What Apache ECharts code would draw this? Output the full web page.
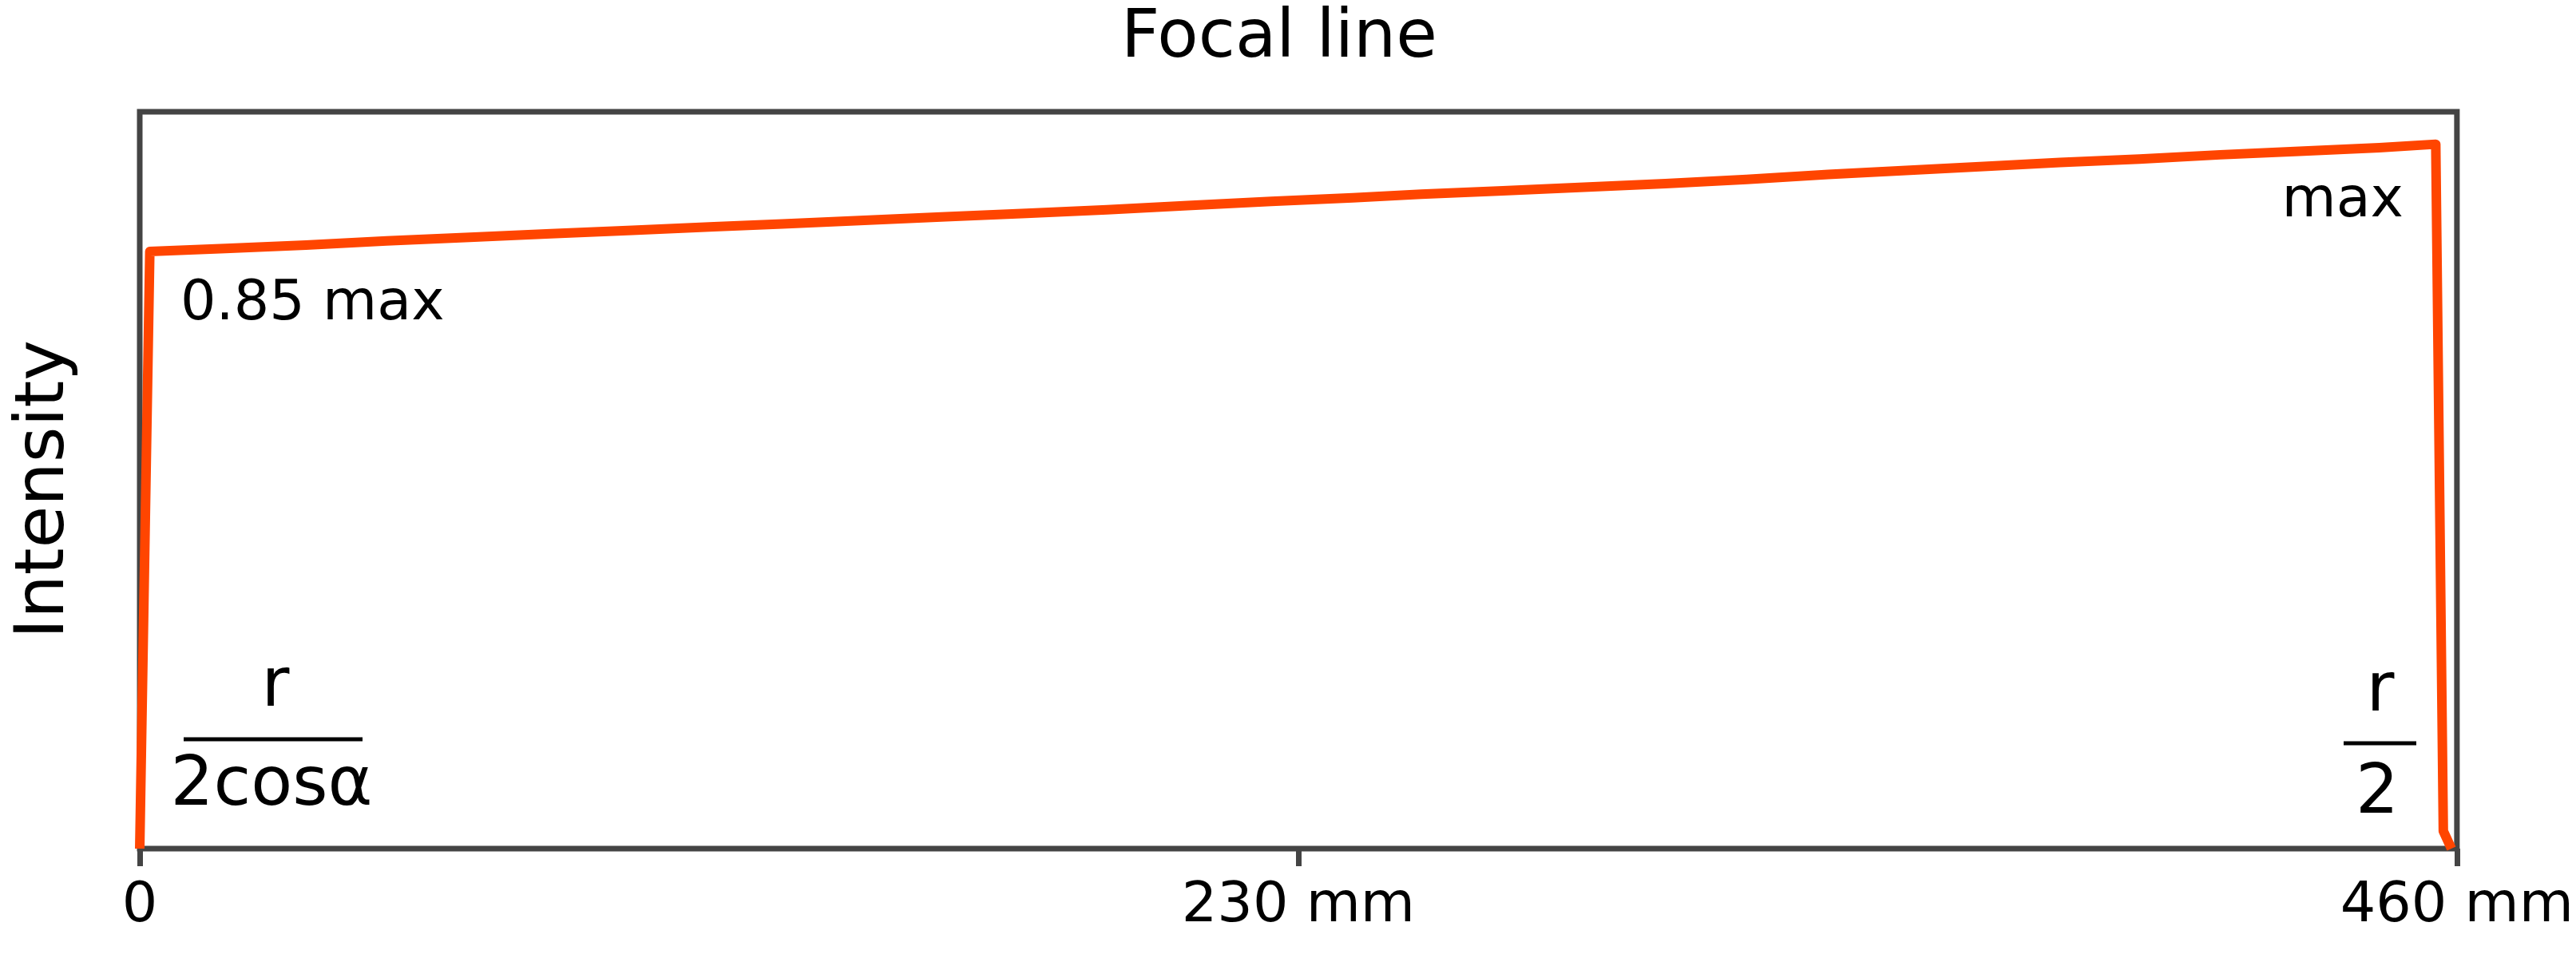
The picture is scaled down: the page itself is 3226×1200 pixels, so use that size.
<!DOCTYPE html>
<html>
<head>
<meta charset="utf-8">
<script src="https://cdn.jsdelivr.net/npm/echarts@6/dist/echarts.min.js"></script>
<style>
  html, body { margin: 0; padding: 0; background: #ffffff; }
  #chart { width: 3226px; height: 1200px; }
</style>
</head>
<body>
<div id="chart"></div>
<script>
// Position along the focal line (mm)
var positionMm = [0, 2.0, 17, 33, 49, 65.5, 81.6, 97.8, 114, 127.6, 143.8, 160, 176, 192, 208, 224.6, 240.8, 254.4, 270.6, 286.7, 302.9, 319, 335.2, 351.4, 367.6, 381.2, 397, 413, 428.7, 444.6, 455.8, 457.3, 458.9];
// Relative intensity (fraction of max)
var intensity = [0.0, 0.847, 0.851, 0.856, 0.862, 0.867, 0.872, 0.877, 0.882, 0.886, 0.891, 0.896, 0.901, 0.906, 0.912, 0.918, 0.923, 0.928, 0.933, 0.938, 0.943, 0.949, 0.956, 0.962, 0.968, 0.973, 0.978, 0.984, 0.989, 0.994, 0.999, 0.025, 0.0];
// X tick values
var xTicks = [0, 230, 460];
var xTickLabels = ['0', '230 mm', '460 mm'];

var FONT = 'DejaVu Sans';
var seriesData = positionMm.map(function (x, i) { return [x, intensity[i]]; });

var chart = echarts.init(document.getElementById('chart'), null, { renderer: 'canvas' });
chart.setOption({
  backgroundColor: '#ffffff',
  animation: false,
  grid: {
    left: 175, right: 148, top: 140, bottom: 137,
    show: true, borderColor: '#444444', borderWidth: 7, backgroundColor: 'transparent'
  },
  xAxis: {
    type: 'value', min: 0, max: 460, interval: 230,
    axisLine: { show: false },
    axisTick: { show: true, inside: false, length: 22, lineStyle: { color: '#444444', width: 7 } },
    splitLine: { show: false },
    axisLabel: {
      show: true, margin: 38, fontFamily: FONT, fontSize: 70, color: '#000000',
      showMinLabel: true, showMaxLabel: true,
      formatter: function (v) { var i = xTicks.indexOf(v); return i >= 0 ? xTickLabels[i] : ''; }
    }
  },
  yAxis: {
    type: 'value', min: 0, max: 1.045,
    axisLine: { show: false }, axisTick: { show: false }, axisLabel: { show: false }, splitLine: { show: false }
  },
  series: [{
    type: 'line', data: seriesData, showSymbol: false, clip: false, smooth: false,
    lineStyle: { color: '#FF4500', width: 12, join: 'round' }, z: 5
  }],
  graphic: [
    { type: 'text', x: 1602, y: 49, style: { text: 'Focal line', fontFamily: FONT, fontSize: 84, fill: '#000', align: 'center', verticalAlign: 'middle' } },
    { type: 'text', x: 57, y: 613, rotation: Math.PI / 2, style: { text: 'Intensity', fontFamily: FONT, fontSize: 86, fill: '#000', align: 'center', verticalAlign: 'middle' } },
    { type: 'text', x: 226, y: 382, style: { text: '0.85 max', fontFamily: FONT, fontSize: 70, fill: '#000', align: 'left', verticalAlign: 'middle' } },
    { type: 'text', x: 3010, y: 253, style: { text: 'max', fontFamily: FONT, fontSize: 70, fill: '#000', align: 'right', verticalAlign: 'middle' } },
    { type: 'text', x: 345, y: 862, style: { text: 'r', fontFamily: FONT, fontSize: 85, fill: '#000', align: 'center', verticalAlign: 'middle' } },
    { type: 'line', shape: { x1: 230, y1: 926, x2: 454, y2: 926 }, style: { stroke: '#000', lineWidth: 5 } },
    { type: 'text', x: 340, y: 986, style: { text: '2cosα', fontFamily: FONT, fontSize: 85, fill: '#000', align: 'center', verticalAlign: 'middle' } },
    { type: 'text', x: 2981, y: 868, style: { text: 'r', fontFamily: FONT, fontSize: 85, fill: '#000', align: 'center', verticalAlign: 'middle' } },
    { type: 'line', shape: { x1: 2935, y1: 931, x2: 3026, y2: 931 }, style: { stroke: '#000', lineWidth: 5 } },
    { type: 'text', x: 2977, y: 996, style: { text: '2', fontFamily: FONT, fontSize: 85, fill: '#000', align: 'center', verticalAlign: 'middle' } }
  ]
});
</script>
</body>
</html>
